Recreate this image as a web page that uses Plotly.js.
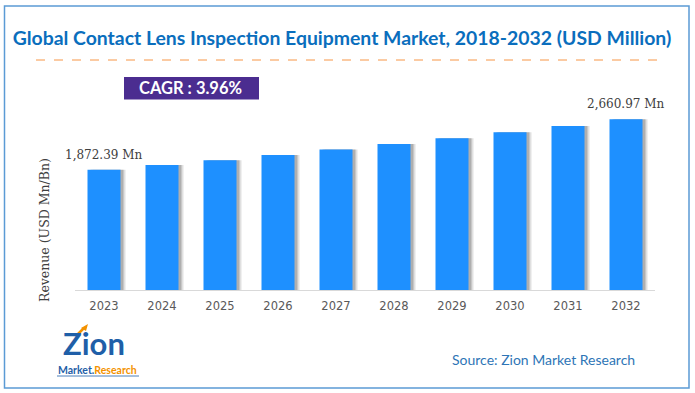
<!DOCTYPE html>
<html><head><meta charset="utf-8">
<script src="https://cdn.plot.ly/plotly-3.0.1.min.js"></script>
<style>html,body{margin:0;padding:0;background:#fff;}#chart{width:695px;height:393px;}</style>
</head><body><div id="chart"></div>
<script>
const years = ['2023','2024','2025','2026','2027','2028','2029','2030','2031','2032'];
const revenue = [1872.39, 1946, 2023, 2104, 2187, 2273, 2364, 2457, 2554, 2660.97];
const labelIdx = [0, 9];
const chartTitle = 'Global Contact Lens Inspection Equipment Market, 2018-2032 (USD Million)';
const cagrText = 'CAGR : 3.96%';
const yTitle = 'Revenue (USD Mn/Bn)';
const sourceText = 'Source: Zion Market Research';

const W = 695, H = 393, L = 75, R = 40, T = 100, B = 103;
const pw = W - L - R, ph = H - T - B;
const px = x => (x - L) / pw;
const py = y => (H - B - y) / ph;

const bw = 33 / 58;
const off = -bw / 2;
const mainBars = {type:'bar', x: years, y: revenue, width: bw, offset: off,
  marker:{color:'#1e90ff'}, hoverinfo:'skip'};
const sh1 = {type:'bar', x: years, y: revenue, width: bw, offset: off + 5/58,
  marker:{color:'rgba(0,0,0,0.12)'}, hoverinfo:'skip'};
const sh2 = {type:'bar', x: years, y: revenue, width: bw, offset: off + 3/58,
  marker:{color:'rgba(0,0,0,0.22)'}, hoverinfo:'skip'};

const fmt = v => v.toLocaleString('en-US',{minimumFractionDigits:2, maximumFractionDigits:2}) + ' Mn';
const annotations = labelIdx.map(i => ({x: i, y: revenue[i], xref:'x', yref:'y',
  text: fmt(revenue[i]), showarrow:false, xanchor:'center', yanchor:'bottom', yshift:6,
  font:{family:'DejaVu Serif', size:12, color:'#404040'}}));

const paperAnn = (x, y, text, font, extra) => Object.assign({xref:'paper', yref:'paper',
  x: px(x), y: py(y), text: text, showarrow:false, xanchor:'center', yanchor:'middle', font: font}, extra || {});

annotations.push(paperAnn(44, 230, yTitle, {family:'DejaVu Serif', size:12.5, color:'#404040'}, {textangle:-90}));
annotations.push(paperAnn(190, 88.5, '<b>'+cagrText+'</b>', {family:'Lato', size:16.5, color:'#ffffff'}));
annotations.push(paperAnn(543, 359, sourceText, {family:'Lato', size:14, color:'#2e75b6'}));
annotations.push(paperAnn(94, 343, '<b>Zion</b>', {family:'Lato', size:31, color:'#1f5fa8'}));
annotations.push(paperAnn(97, 369.5,
  '<b><span style="color:#1f5fa8">Market.</span><span style="color:#f39200">Research</span></b>',
  {family:'Lato', size:10.5, color:'#1f5fa8'}));

const shapes = [
  {type:'rect', xref:'paper', yref:'paper', x0: px(4.5), x1: px(689), y0: py(388), y1: py(6),
   line:{color:'#5b9bd5', width:1.5}, fillcolor:'rgba(0,0,0,0)', layer:'below'},
  {type:'line', xref:'paper', yref:'paper', x0: px(36), x1: px(659), y0: py(60), y1: py(60),
   line:{color:'#f79646', width:1, dash:'dash'}},
  {type:'rect', xref:'paper', yref:'paper', x0: px(124), x1: px(259), y0: py(99.5), y1: py(77),
   line:{width:0}, fillcolor:'#4b2d90', layer:'below'},
  {type:'line', xref:'paper', yref:'paper', x0: px(76), x1: px(84), y0: py(336), y1: py(328),
   line:{color:'#f39200', width:2.5}},
  {type:'path', xref:'paper', yref:'paper',
   path: `M ${px(81)} ${py(328)} L ${px(88)} ${py(324)} L ${px(86)} ${py(331)} Z`,
   line:{width:0}, fillcolor:'#f39200'},
  {type:'line', xref:'paper', yref:'paper', x0: px(57), x1: px(139), y0: py(376), y1: py(376),
   line:{color:'#1f5fa8', width:0.8}}
];

const layout = {
  width: W, height: H,
  margin:{l:L, r:R, t:T, b:B},
  paper_bgcolor:'#ffffff', plot_bgcolor:'#ffffff',
  barmode:'overlay', showlegend:false,
  title:{text:'<b>'+chartTitle+'</b>', x: 342/W, xanchor:'center', xref:'container',
    y: 1 - 38/H, yanchor:'middle', yref:'container',
    font:{family:'Lato', size:19.4, color:'#0a6ebd'}},
  xaxis:{type:'category', range:[-0.5, 9.5], showline:true, linecolor:'#d9d9d9', linewidth:1,
    ticks:'', showgrid:false, zeroline:false, ticklabelstandoff:5,
    tickfont:{family:'DejaVu Sans', size:11.5, color:'#595959'}},
  yaxis:{range:[0, 2960], visible:false, showgrid:false, zeroline:false},
  annotations: annotations,
  shapes: shapes
};
Plotly.newPlot('chart', [sh1, sh2, mainBars], layout, {displayModeBar:false, staticPlot:true});
</script></body></html>
